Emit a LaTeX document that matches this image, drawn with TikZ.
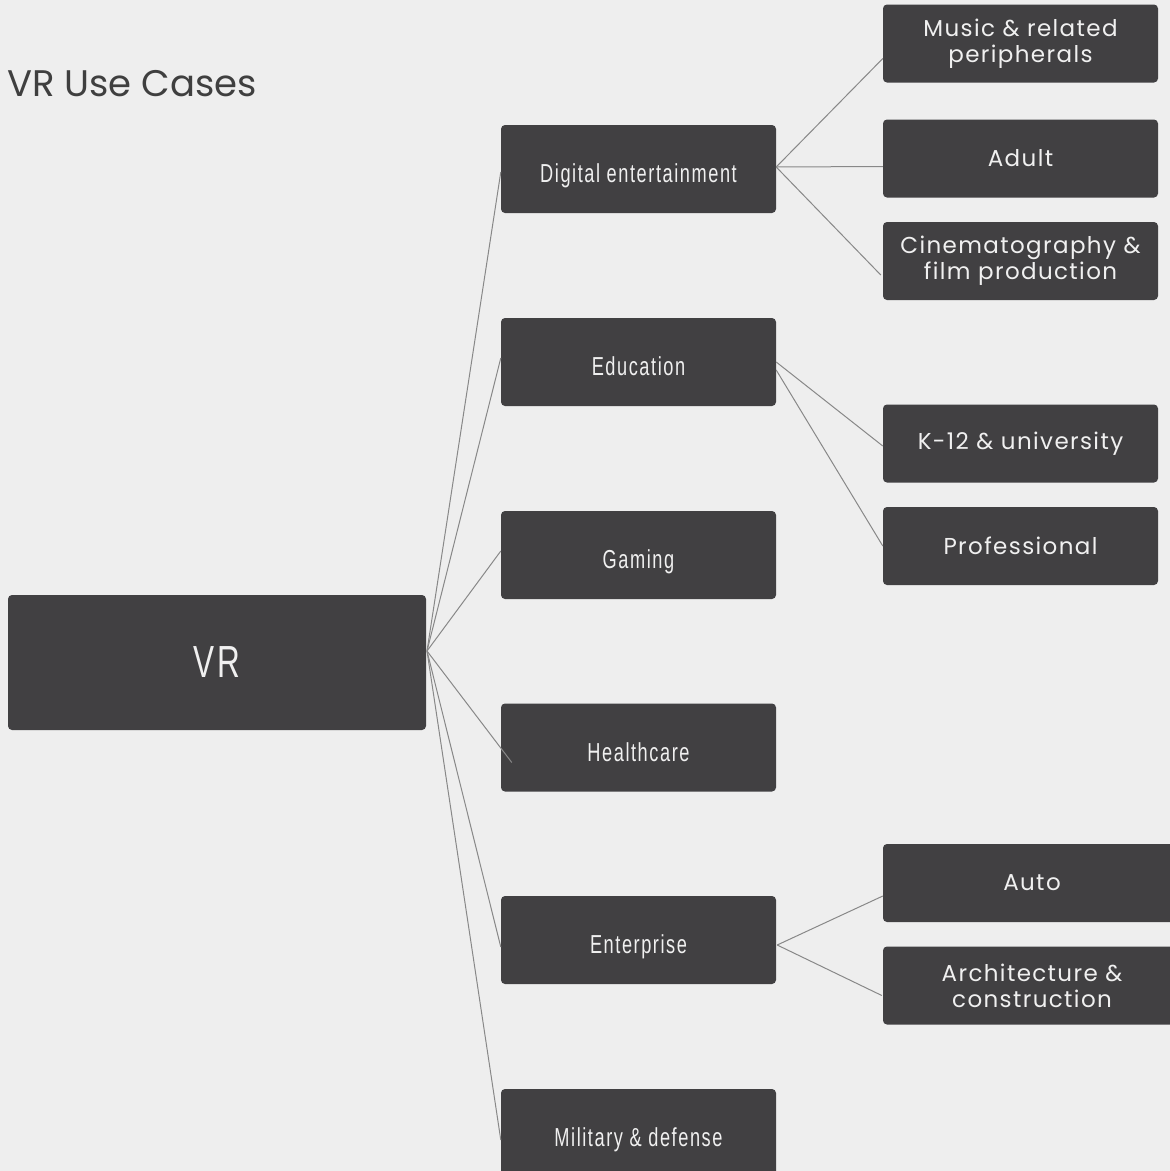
\documentclass[tikz,border=0pt]{standalone}
\usepackage{fontspec}
\setmainfont{Poppins}
\newfontfamily\condfont[FakeStretch=0.7,LetterSpace=6]{Liberation Sans}
\newfontfamily\trackfont[LetterSpace=6]{Poppins}
\usetikzlibrary{calc}
\definecolor{paper}{HTML}{EEEEEE}
\definecolor{boxgray}{HTML}{414042}
\definecolor{linkgray}{HTML}{888888}
\definecolor{titlegray}{HTML}{3F3F3F}

\begin{document}
\begin{tikzpicture}[x=1pt, y=-1pt,
    box/.style={fill=boxgray, rounded corners=4pt, text=white!94!black, inner sep=0pt, align=center},
    topic/.style={box, minimum width=275pt, minimum height=88pt, text height=27pt, text depth=0pt, font=\condfont\fontsize{26}{30}\selectfont},
    leaf/.style={box, minimum width=275pt, minimum height=78pt, font=\trackfont\fontsize{23}{26}\selectfont},
    link/.style={draw=linkgray, line width=1pt}]
    \useasboundingbox (0,0) rectangle (1170,1171);
    \clip (0,0) rectangle (1170,1171);
    \fill[paper] (0,0) rectangle (1170,1171);

    \node[anchor=base west, text=titlegray, font=\fontsize{37}{40}\selectfont, inner sep=0pt] (title) at (7,96) {VR Use Cases};

    % root
    \node[box, minimum width=418pt, minimum height=135pt, font=\condfont\fontsize{45}{50}\selectfont] (vr) at (217,662.5) {VR};
    \coordinate (fan) at (427,651);

    % first level
    \node[topic] (dig) at (638.5,169) {Digital entertainment};
    \node[topic] (edu) at (638.5,362) {Education};
    \node[topic] (gam) at (638.5,555) {Gaming};
    \node[topic] (hlt) at (638.5,747.5) {Healthcare};
    \node[topic] (ent) at (638.5,940) {Enterprise};
    \node[topic] (mil) at (638.5,1133) {Military \& defense};

    % second level
    \node[leaf] (mus) at (1020.5,43.5) {Music \& related\\peripherals};
    \node[leaf] (adu) at (1020.5,158.5) {Adult};
    \node[leaf] (cin) at (1020.5,261) {Cinematography \&\\film production};
    \node[leaf] (k12) at (1020.5,443.5) {K-12 \& university};
    \node[leaf] (pro) at (1020.5,546) {Professional};
    \node[leaf, minimum width=298pt] (aut) at (1032,883) {Auto};
    \node[leaf, minimum width=298pt] (arc) at (1032,985.5) {Architecture \&\\construction};

    % links
    \draw[link] (fan) -- ([shift={(0,3)}]dig.west);
    \draw[link] (fan) -- ([shift={(0,-4)}]edu.west);
    \draw[link] (fan) -- ([shift={(0,-4)}]gam.west);
    \draw[link] (fan) -- ([shift={(11,15)}]hlt.west);
    \draw[link] (fan) -- ([shift={(0,7)}]ent.west);
    \draw[link] (fan) -- ([shift={(0,7)}]mil.west);

    \draw[link] ([shift={(0,-2)}]dig.east) -- ([shift={(0,15)}]mus.west);
    \draw[link] ([shift={(0,-2)}]dig.east) -- ([shift={(0,8)}]adu.west);
    \draw[link] ([shift={(0,-2)}]dig.east) -- ([shift={(-2,14)}]cin.west);
    \draw[link] (edu.east) -- ([shift={(0,2.5)}]k12.west);
    \draw[link] ([shift={(0,8)}]edu.east) -- (pro.west);
    \draw[link] ([shift={(1,5)}]ent.east) -- ([shift={(0,13)}]aut.west);
    \draw[link] ([shift={(1,5)}]ent.east) -- ([shift={(-1,10)}]arc.west);
\end{tikzpicture}
\end{document}
